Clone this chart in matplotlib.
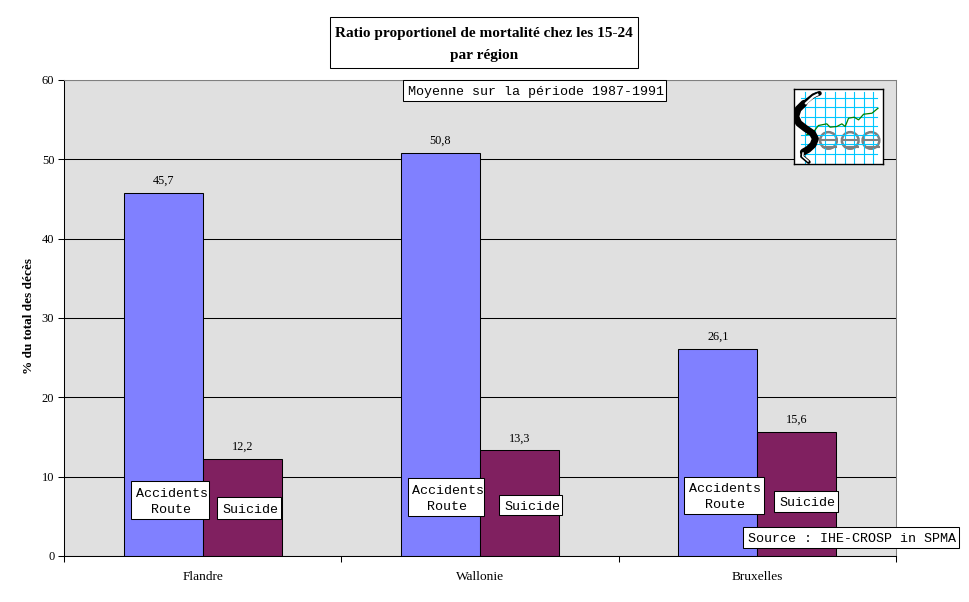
import matplotlib
matplotlib.use("Agg")
import matplotlib.pyplot as plt
from matplotlib.patches import Rectangle, Circle
import numpy as np

regions = ["Flandre", "Wallonie", "Bruxelles"]
accidents = [45.7, 50.8, 26.1]
suicide = [12.2, 13.3, 15.6]
yticks = [0, 10, 20, 30, 40, 50, 60]

W, H = 970, 602
SERIF = "Liberation Serif"
MONO = "Liberation Mono"

fig = plt.figure(figsize=(W / 100, H / 100), dpi=100, facecolor="white")


def px_axes(x0, y0, x1, y1, **kw):
    # pixel box measured from the top left of the picture
    return fig.add_axes([x0 / W, 1 - y1 / H, (x1 - x0) / W, (y1 - y0) / H], **kw)


def box(x0, y0, x1, y1, lines, font, size, weight="normal", leading=0, dx=0, dy=0):
    fig.add_artist(Rectangle((x0 / W, 1 - y1 / H), (x1 - x0) / W, (y1 - y0) / H,
                             transform=fig.transFigure, facecolor="white",
                             edgecolor="black", linewidth=0.75, zorder=3))
    cy = (y0 + y1) / 2 + dy
    for i, line in enumerate(lines):
        y = cy + (i - (len(lines) - 1) / 2) * leading
        fig.text(((x0 + x1) / 2 + dx) / W, 1 - y / H, line, family=font, fontsize=size,
                 fontweight=weight, ha="center", va="center", zorder=4)


def label_box(x0, y0, x1, y1, lines):
    box(x0, y0, x1, y1, lines, MONO, 9.6, leading=16, dx=1.5, dy=2)


ax = px_axes(64, 80, 896, 556)
ax.set_facecolor("#e0e0e0")
ax.set_xlim(0, 3)
ax.set_ylim(0, 60)

x = np.arange(len(regions)) + 0.5
bar_w = 0.285
bars1 = ax.bar(x - bar_w / 2, accidents, bar_w, color="#8080ff", edgecolor="black", linewidth=0.75)
bars2 = ax.bar(x + bar_w / 2, suicide, bar_w, color="#802060", edgecolor="black", linewidth=0.75)

for bars, values in ((bars1, accidents), (bars2, suicide)):
    for b, v in zip(bars, values):
        ax.annotate(str(v).replace(".", ","), (b.get_x() + b.get_width() / 2, v),
                    xytext=(0, 4.5), textcoords="offset points", ha="center", va="bottom",
                    family=SERIF, fontsize=8.8)

ax.set_axisbelow(True)
ax.set_yticks(yticks)
ax.set_yticklabels([str(t) for t in yticks], family=SERIF, fontsize=9)
ax.yaxis.grid(True, color="black", linewidth=0.75)

# ticks sit between the groups, the labels under each group
ax.set_xticks([0, 1, 2, 3])
ax.set_xticklabels([])
ax.set_xticks(x, minor=True)
ax.set_xticklabels(regions, minor=True, family=SERIF, fontsize=9.6)
ax.tick_params(axis="x", which="minor", length=0, pad=11)
ax.tick_params(axis="x", which="major", length=4, width=0.75)
ax.tick_params(axis="y", length=4, width=0.75, pad=3)

for side in ("top", "right"):
    ax.spines[side].set_color("#808080")
    ax.spines[side].set_linewidth(0.75)
for side in ("left", "bottom"):
    ax.spines[side].set_linewidth(0.75)

fig.text(29 / W, 1 - 316 / H, "% du total des décès", rotation=90, family=SERIF,
         fontsize=9.5, fontweight="bold", ha="center", va="center")

box(330, 17, 638, 68, ["Ratio proportionel de mortalité chez les 15-24", "par région"],
    SERIF, 11, "bold", leading=21, dy=2)
label_box(403, 80, 666, 101, ["Moyenne sur la période 1987-1991"])
label_box(131, 481, 209, 519, ["Accidents", "Route"])
label_box(217, 497, 281, 519, ["Suicide"])
label_box(408, 478, 484, 516, ["Accidents", "Route"])
label_box(499, 495, 562, 515, ["Suicide"])
label_box(684, 477, 764, 514, ["Accidents", "Route"])
label_box(774, 491, 838, 512, ["Suicide"])
label_box(743, 527, 959, 548, ["Source : IHE-CROSP in SPMA"])

# logo, traced in the pixel scale of a 3x crop
logo = px_axes(794, 89, 883, 164, zorder=5)
logo.set_xlim(42, 308)
logo.set_ylim(268, 42)
logo.set_xticks([])
logo.set_yticks([])
logo.set_facecolor("white")
for s in logo.spines.values():
    s.set_linewidth(1)
for gx in [75, 105, 135, 165, 195, 222, 250, 278]:
    logo.plot([gx, gx], [52, 265], color="#00c8ff", linewidth=0.8)
for gy in [68, 97, 125, 153, 180, 207, 238]:
    logo.plot([62, 290], [gy, gy], color="#00c8ff", linewidth=0.8)
for cx in [145, 210, 272]:
    logo.add_patch(Circle((cx, 197), 25, fill=False, edgecolor="#808080", linewidth=1.8))
    logo.plot([cx - 23, cx + 23], [197, 197], color="#808080", linewidth=1.5)
    logo.plot([cx - 16, cx + 23], [217, 217], color="#808080", linewidth=1.5)
logo.plot([80, 100, 115, 140, 150, 170, 185, 195, 205, 222, 235, 250, 275, 293],
          [180, 172, 152, 147, 157, 155, 147, 155, 130, 127, 135, 118, 115, 100],
          color="#008000", linewidth=0.9)
logo.plot([72, 54, 47, 56, 75, 97, 106, 99, 84, 70],
          [85, 103, 125, 145, 160, 175, 192, 210, 224, 232],
          color="black", linewidth=5, solid_capstyle="round")
logo.plot([118, 100, 72], [55, 62, 85], color="black", linewidth=3.4, solid_capstyle="round")
logo.plot([112, 100, 78], [59, 65, 85], color="white", linewidth=1.6)
logo.plot([68, 66, 86], [232, 245, 262], color="black", linewidth=2.8, solid_capstyle="round")
logo.plot([69, 68, 84], [235, 245, 259], color="white", linewidth=1.1)

fig.savefig("out.png", dpi=100)
